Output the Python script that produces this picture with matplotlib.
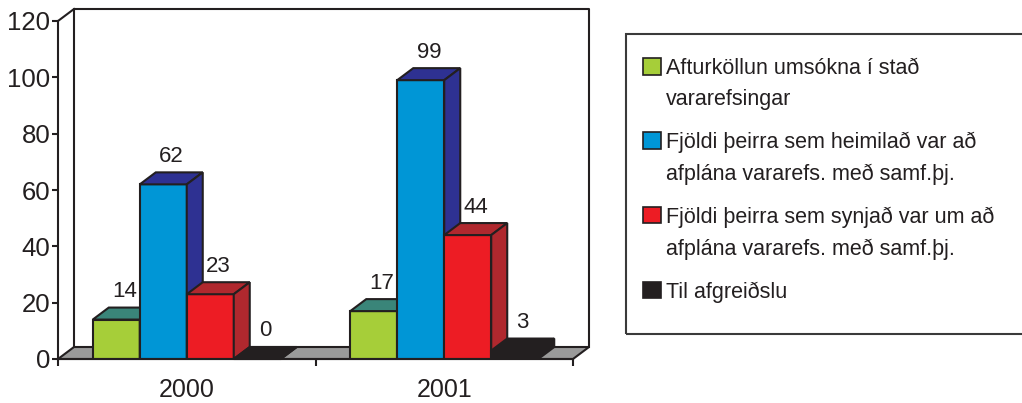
import matplotlib.pyplot as plt
from matplotlib.patches import Polygon, Rectangle, Patch

plt.rcParams['font.family'] = ['Liberation Sans', 'DejaVu Sans']

# Data
years = ['2000', '2001']
labels = ['Afturköllun umsókna í stað\nvararefsingar',
          'Fjöldi þeirra sem heimilað var að\nafplána vararefs. með samf.þj.',
          'Fjöldi þeirra sem synjað var um að\nafplána vararefs. með samf.þj.',
          'Til afgreiðslu']
afturkollun = [14, 17]
heimilad = [62, 99]
synjad = [23, 44]
til_afgreidslu = [0, 3]
yticks = [0, 20, 40, 60, 80, 100, 120]

face_colors = ['#a6ce39', '#0096d6', '#ed1c24', '#231f20']
shade_colors = ['#3a8579', '#2e3192', '#b0282e', '#231f20']
edge = '#231f20'

fig = plt.figure(figsize=(10.22, 4.03), dpi=100)
ax = fig.add_axes([58 / 1022, 44 / 403, 515 / 1022, 338 / 403])
ax.set_xlim(-0.5, 1.5)
ax.set_ylim(0, 120)

# depth of the fake 3D effect, in pixels -> data units
inv = ax.transData.inverted()
o = ax.transData.transform((0, 0))
ddx, ddy = inv.transform(o + [16, 12]) - inv.transform(o)

# floor
ax.add_patch(Polygon([(-0.5, 0), (1.5, 0), (1.5 + ddx, ddy), (-0.5 + ddx, ddy)],
                     closed=True, facecolor='#9a9a9a', edgecolor=edge,
                     linewidth=1.5, zorder=1, clip_on=False))

# back wall outline
ax.plot([-0.5 + ddx, -0.5 + ddx, 1.5 + ddx, 1.5 + ddx],
        [ddy, 120 + ddy, 120 + ddy, ddy], color=edge, lw=1.5,
        clip_on=False, zorder=0.5)
ax.plot([-0.5, -0.5 + ddx], [120, 120 + ddy], color=edge, lw=1.5,
        clip_on=False, zorder=0.5)

all_series = [afturkollun, heimilad, synjad, til_afgreidslu]
w = 0.1825
z = 2
for c in range(len(years)):
    for i, vals in enumerate(all_series):
        v = vals[c]
        left = c + (i - 2) * w
        right = left + w
        ax.bar(left, v, width=w, align='edge', color=face_colors[i],
               edgecolor=edge, linewidth=1.5, zorder=z)
        top = Polygon([(left, v), (right, v), (right + ddx, v + ddy),
                       (left + ddx, v + ddy)], closed=True,
                      facecolor=shade_colors[i], edgecolor=edge,
                      linewidth=1.5, zorder=z + 0.1, clip_on=False)
        side = Polygon([(right, 0), (right + ddx, ddy), (right + ddx, v + ddy),
                        (right, v)], closed=True, facecolor=shade_colors[i],
                       edgecolor=edge, linewidth=1.5, zorder=z + 0.1,
                       clip_on=False)
        ax.add_patch(top)
        ax.add_patch(side)
        ax.annotate(str(v), (left + w / 2 + ddx / 2, v + ddy),
                    xytext=(0, 4), textcoords='offset points',
                    ha='center', va='bottom', fontsize=16, color=edge,
                    zorder=20, annotation_clip=False)
        z += 1

# axes styling
for s in ['top', 'right']:
    ax.spines[s].set_visible(False)
for s in ['left', 'bottom']:
    ax.spines[s].set_color(edge)
    ax.spines[s].set_linewidth(1.5)
    ax.spines[s].set_zorder(50)
ax.set_yticks(yticks)
ax.tick_params(axis='y', length=4, width=1.5, color=edge, pad=1.5,
               labelsize=18.5, labelcolor=edge)
ax.set_xticks([-0.5, 0.5, 1.5])
ax.set_xticklabels([])
ax.set_xticks([0, 1], minor=True)
ax.set_xticklabels(years, minor=True)
ax.tick_params(axis='x', which='major', length=5, width=1.5, color=edge)
ax.tick_params(axis='x', which='minor', length=0, pad=14, labelsize=18,
               labelcolor=edge)
ax.patch.set_visible(False)

# legend
handles = [Patch(facecolor=face_colors[i], edgecolor=edge, linewidth=1.2)
           for i in range(4)]
leg = fig.legend(handles, labels, loc='upper left',
                 bbox_to_anchor=(643 / 1022, 1 - 58 / 403),
                 frameon=False, fontsize=15.5, handlelength=0.82,
                 handleheight=0.82, handletextpad=0.25, labelspacing=1.0,
                 borderpad=0, borderaxespad=0, labelcolor=edge)
for t in leg.get_texts():
    t.set_linespacing(1.65)
for hp in leg._legend_handle_box.get_children()[0].get_children():
    hp.align = 'top'
fig.add_artist(Rectangle((626 / 1022, 1 - 334 / 403), 400 / 1022, 300 / 403,
                         transform=fig.transFigure, facecolor='none',
                         edgecolor='#3a3a3a', linewidth=1.5))

fig.savefig('out.png', dpi=100)
